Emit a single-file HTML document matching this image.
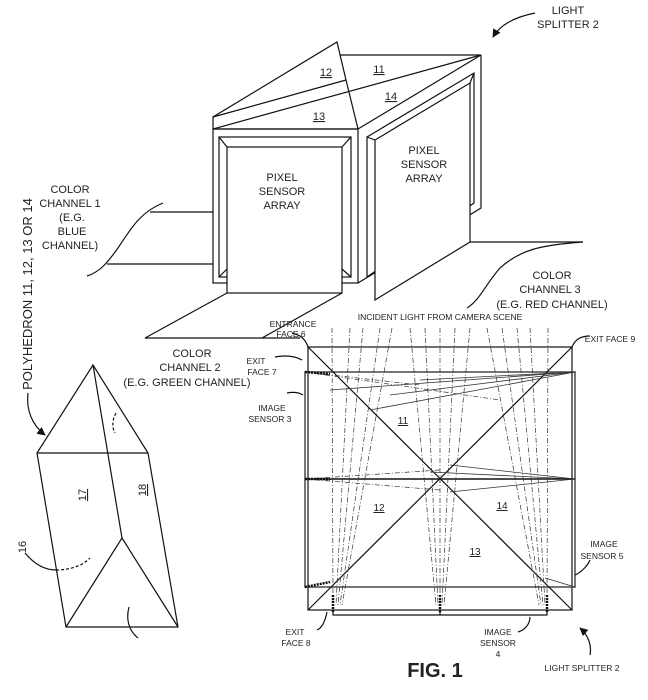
<!DOCTYPE html>
<html><head><meta charset="utf-8"><style>
html,body{margin:0;padding:0;background:#fff}
svg{display:block}
text{font-family:"Liberation Sans",sans-serif;fill:#222}
</style></head><body>
<svg width="648" height="700" viewBox="0 0 648 700" xmlns="http://www.w3.org/2000/svg">
<defs>
<marker id="ah" viewBox="0 0 10 10" refX="9" refY="5" markerWidth="7" markerHeight="7" orient="auto-start-reverse"><path d="M0,0 L10,5 L0,10 z" fill="#111"/></marker>
</defs>
<g fill="none" stroke="#111" stroke-width="1.2">
<!-- top prism -->
<polyline points="213,129 213,117 337,42 346,80 358,129"/>
<line x1="213" y1="117" x2="346" y2="80"/>
<line x1="340" y1="55" x2="481" y2="55"/>
<line x1="213" y1="129" x2="481" y2="55"/>
<line x1="358" y1="129" x2="481" y2="55"/>
<line x1="213" y1="129" x2="358" y2="129"/>
<!-- left box -->
<rect x="213" y="129" width="145" height="154"/>
<rect x="219" y="137" width="132" height="140"/>
<line x1="219" y1="137" x2="227" y2="147"/><line x1="351" y1="137" x2="342" y2="147"/>
<line x1="219" y1="277" x2="227" y2="269"/><line x1="351" y1="277" x2="342" y2="269"/>
<rect x="227" y="147" width="115" height="146" fill="#fff"/>
<!-- right box -->
<polyline points="358,283 481,208 481,55"/>
<polygon points="367,137 474,73 474,203 367,277"/>
<line x1="367" y1="137" x2="375" y2="140"/><line x1="474" y1="73" x2="470" y2="83"/>
<polygon points="375,140 470,83 470,242 375,300" fill="#fff"/>
<!-- floors -->
<polyline points="227,293 145,338 262,338 342,293"/>
<line x1="262" y1="338" x2="300" y2="338"/>
<polyline points="470,242 583,242"/>
<path d="M583,242 C540,245 520,250 500,268 C485,285 480,300 467,308"/>
<!-- left channel lines -->
<line x1="150" y1="212" x2="213" y2="212"/>
<line x1="107" y1="264" x2="213" y2="264"/>
<path d="M163,203 C140,212 130,230 118,248 C108,262 100,272 87,276"/>
<!-- lower-left prism -->
<polygon points="93,365 37,453 66,627 178,627 148,453"/>
<line x1="37" y1="453" x2="148" y2="453"/>
<polyline points="93,365 122,538 66,627"/>
<line x1="122" y1="538" x2="178" y2="627"/>
<path d="M116,413 C112,420 112,428 115,433" stroke-dasharray="3,2"/>
<path d="M28,393 C26,410 32,425 45,435" marker-end="url(#ah)"/>
<path d="M25,553 C35,565 45,570 56,570"/>
<path d="M56,570 C70,570 82,566 90,558" stroke-dasharray="3,2"/>
<path d="M129,607 C126,618 128,630 138,638"/>
<!-- top right arrow -->
<path d="M535,13 C515,17 500,25 493,37" marker-end="url(#ah)"/>
<!-- bottom right arrow -->
<path d="M590,655 C592,645 588,635 580,628" marker-end="url(#ah)"/>
<!-- square splitter -->
<rect x="308" y="347" width="264" height="263"/>
<rect x="305" y="372" width="270" height="215" stroke="#555" stroke-width="1.6"/>
<line x1="308" y1="347" x2="572" y2="610"/>
<line x1="572" y1="347" x2="308" y2="610"/>
<line x1="305" y1="479" x2="575" y2="479" stroke-width="1.4"/>
<polyline points="333,612 333,615 547,615 547,612"/>
<line x1="440" y1="610" x2="440" y2="615"/>
<!-- leaders -->
<path d="M308,347 C305,338 300,335 292,333"/>
<path d="M572,347 C575,340 580,336 590,336"/>
<path d="M302,360 C295,356 285,355 275,357"/>
<path d="M303,395 C298,392 292,392 287,393"/>
<path d="M575,575 C582,572 588,565 590,560"/>
<path d="M327,612 C325,622 322,628 317,630"/>
<path d="M530,617 C530,624 525,630 518,632"/>
</g>
<!-- rays -->
<g fill="none" stroke="#333" stroke-width="0.7" stroke-dasharray="5,2,1,2">
<line x1="332" y1="328" x2="333" y2="605"/><line x1="350" y1="328" x2="336" y2="605"/><line x1="363" y1="328" x2="338" y2="605"/><line x1="380" y1="328" x2="340" y2="605"/><line x1="392" y1="328" x2="342" y2="605"/>
<line x1="410" y1="328" x2="436" y2="605"/><line x1="425" y1="328" x2="438" y2="605"/><line x1="440" y1="328" x2="440" y2="605"/><line x1="455" y1="328" x2="442" y2="605"/><line x1="470" y1="328" x2="444" y2="605"/>
<line x1="487" y1="328" x2="539" y2="605"/><line x1="502" y1="328" x2="541" y2="605"/><line x1="517" y1="328" x2="543" y2="605"/><line x1="530" y1="328" x2="545" y2="605"/><line x1="548" y1="328" x2="547" y2="605"/>
<line x1="305" y1="372" x2="420" y2="385"/><line x1="305" y1="372" x2="500" y2="400"/><line x1="305" y1="479" x2="440" y2="470"/><line x1="305" y1="479" x2="440" y2="490"/>
</g>
<g fill="none" stroke="#333" stroke-width="0.8">
<line x1="575" y1="372" x2="370" y2="410"/><line x1="575" y1="372" x2="390" y2="395"/><line x1="575" y1="372" x2="420" y2="380"/><line x1="575" y1="372" x2="330" y2="390"/>
<line x1="575" y1="479" x2="450" y2="465"/><line x1="575" y1="479" x2="450" y2="492"/><line x1="575" y1="479" x2="430" y2="472"/>
<line x1="575" y1="587" x2="545" y2="578"/>
</g>
<g fill="none" stroke="#111" stroke-width="2.5" stroke-dasharray="2,1">
<line x1="305" y1="372" x2="330" y2="374"/><line x1="305" y1="479" x2="330" y2="479"/><line x1="305" y1="587" x2="330" y2="582"/>
<line x1="333" y1="595" x2="333" y2="612"/><line x1="440" y1="595" x2="440" y2="612"/><line x1="547" y1="595" x2="547" y2="612"/>
</g>
<!-- text -->
<g text-anchor="middle">
<text x="568" y="14" font-size="11">LIGHT</text><text x="568" y="28" font-size="11">SPLITTER 2</text>
<text x="326" y="76" font-size="11" text-decoration="underline">12</text>
<text x="379" y="73" font-size="11" text-decoration="underline">11</text>
<text x="391" y="100" font-size="11" text-decoration="underline">14</text>
<text x="319" y="120" font-size="11" text-decoration="underline">13</text>
<text x="282" y="181" font-size="11">PIXEL</text><text x="282" y="195" font-size="11">SENSOR</text><text x="282" y="209" font-size="11">ARRAY</text>
<text x="424" y="154" font-size="11">PIXEL</text><text x="424" y="168" font-size="11">SENSOR</text><text x="424" y="182" font-size="11">ARRAY</text>
<text x="70" y="193" font-size="11">COLOR</text><text x="70" y="207" font-size="11">CHANNEL 1</text><text x="72" y="221" font-size="11">(E.G.</text><text x="72" y="235" font-size="11">BLUE</text><text x="70" y="249" font-size="11">CHANNEL)</text>
<text x="552" y="279" font-size="11">COLOR</text><text x="550" y="293" font-size="11">CHANNEL 3</text><text x="552" y="308" font-size="11">(E.G. RED CHANNEL)</text>
<text x="192" y="357" font-size="11">COLOR</text><text x="190" y="371" font-size="11">CHANNEL 2</text><text x="187" y="386" font-size="11">(E.G. GREEN CHANNEL)</text>
<text x="28" y="294" font-size="13" transform="rotate(-90 28 294)" dy="4">POLYHEDRON 11, 12, 13 OR 14</text>
<text x="82" y="495" font-size="11" transform="rotate(-90 82 495)" text-decoration="underline" dy="4">17</text>
<text x="142" y="490" font-size="11" transform="rotate(-90 142 490)" text-decoration="underline" dy="4">18</text>
<text x="22" y="547" font-size="11" transform="rotate(-90 22 547)" dy="4">16</text>
<text x="293" y="327" font-size="8.5">ENTRANCE</text><text x="291" y="337" font-size="8.5">FACE 6</text>
<text x="440" y="320" font-size="8.5">INCIDENT LIGHT FROM CAMERA SCENE</text>
<text x="610" y="342" font-size="8.5">EXIT FACE 9</text>
<text x="256" y="364" font-size="8.5">EXIT</text><text x="262" y="375" font-size="8.5">FACE 7</text>
<text x="272" y="411" font-size="8.5">IMAGE</text><text x="270" y="422" font-size="8.5">SENSOR 3</text>
<text x="403" y="424" font-size="10" text-decoration="underline">11</text>
<text x="379" y="511" font-size="10" text-decoration="underline">12</text>
<text x="502" y="509" font-size="10" text-decoration="underline">14</text>
<text x="475" y="555" font-size="10" text-decoration="underline">13</text>
<text x="604" y="547" font-size="8.5">IMAGE</text><text x="602" y="559" font-size="8.5">SENSOR 5</text>
<text x="295" y="635" font-size="8.5">EXIT</text><text x="296" y="646" font-size="8.5">FACE 8</text>
<text x="498" y="635" font-size="8.5">IMAGE</text><text x="498" y="646" font-size="8.5">SENSOR</text><text x="498" y="657" font-size="8.5">4</text>
<text x="435" y="677" font-size="20" font-weight="bold">FIG. 1</text>
<text x="582" y="671" font-size="8.5">LIGHT SPLITTER 2</text>
</g>
</svg>
</body></html>
